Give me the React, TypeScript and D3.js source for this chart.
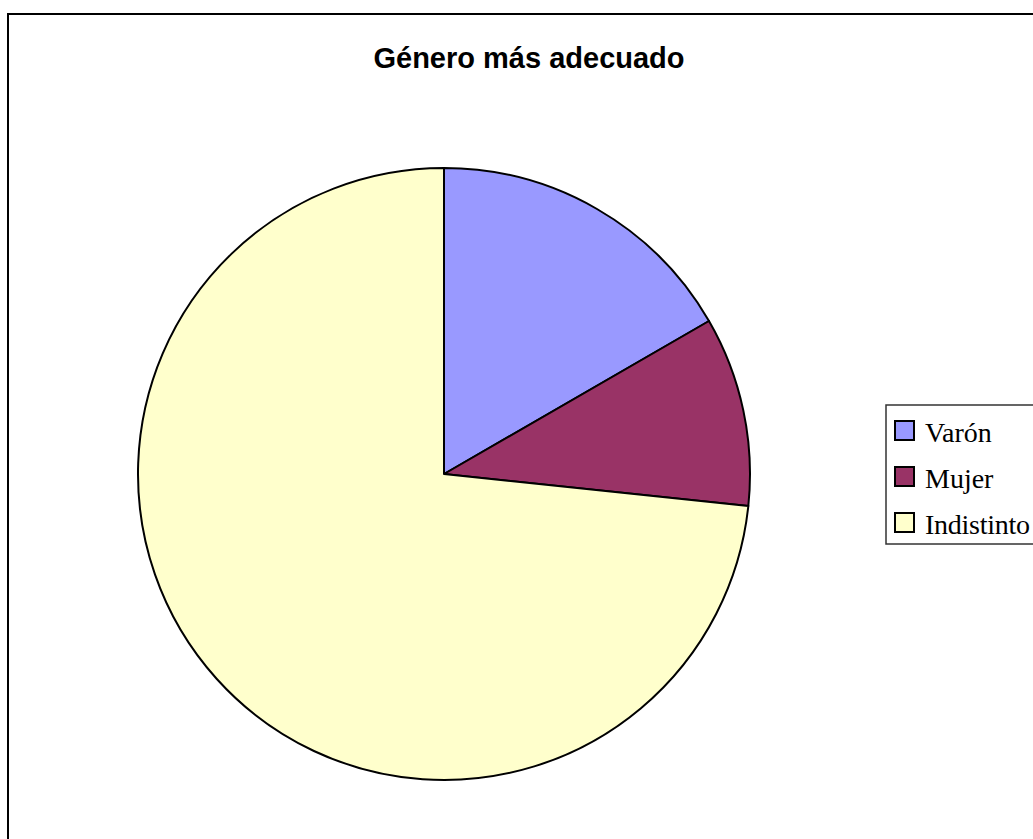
import React from "react";
import * as d3 from "d3";

const categories = ["Varón", "Mujer", "Indistinto"];
const values = [5, 3, 22];
const colors = ["#9999FF", "#993366", "#FFFFCC"];
const title = "Género más adecuado";

export default function App() {
  const W = 1033, H = 839;
  const cx = 444, cy = 474, r = 306;
  const pie = d3.pie<number>().sort(null).value((d) => d)(values);
  const arc = d3.arc<d3.PieArcDatum<number>>().innerRadius(0).outerRadius(r);
  const legendX = 886, legendY = 405, rowH = 46;
  return (
    <svg width={W} height={H} style={{ position: "absolute", left: 0, top: 0, display: "block", background: "#fff" }}>
      <rect x={8} y={14} width={1200} height={1000} fill="#fff" stroke="#000" strokeWidth={2} />
      <text x={529} y={68} textAnchor="middle" fontFamily="Liberation Sans, Arial, sans-serif" fontWeight="bold" fontSize={29} fill="#000">{title}</text>
      <g transform={`translate(${cx},${cy})`}>
        {pie.map((p, i) => (
          <path key={i} d={arc(p) || ""} fill={colors[i]} stroke="#000" strokeWidth={2} strokeLinejoin="round" />
        ))}
      </g>
      <rect x={legendX} y={legendY} width={300} height={139} fill="#fff" stroke="#333" strokeWidth={1.5} />
      {categories.map((c, i) => (
        <g key={c} transform={`translate(0,${i * rowH})`}>
          <rect x={895} y={421} width={19} height={19} fill={colors[i]} stroke="#000" strokeWidth={2} />
          <text x={925} y={442} fontFamily="Liberation Serif, Times New Roman, serif" fontSize={28} textLength={c === "Indistinto" ? 105 : undefined} fill="#000">{c}</text>
        </g>
      ))}
    </svg>
  );
}
